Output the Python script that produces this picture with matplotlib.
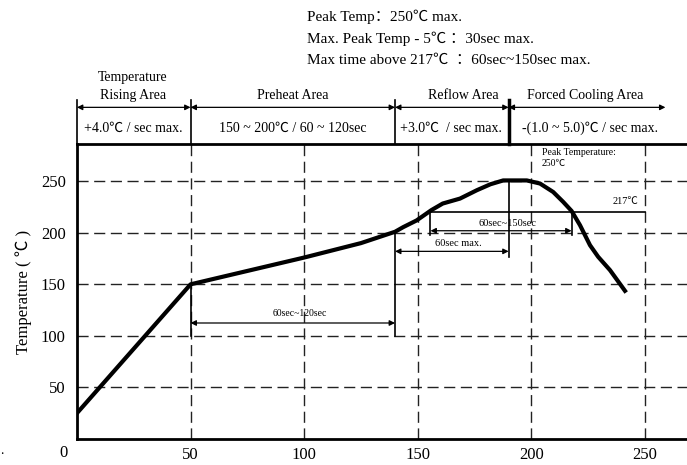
import matplotlib.pyplot as plt

# reflow profile
time_s = [0, 50, 75, 100, 125, 140, 143.6, 149.5, 156, 161, 168.6, 176, 182,
          187.6, 198, 203.8, 209.6, 214, 217.7, 221.4, 225.8, 229.4, 234.6, 241.2]
temp_c = [25, 150, 163, 176, 190, 201, 205.5, 212, 222, 228.4, 233.2, 241.3, 247.1,
          250.8, 250.8, 247.8, 239.6, 230, 221.2, 207.4, 188, 176.7, 163.8, 143.7]

x_ticks = [50, 100, 150, 200, 250]
y_ticks = [50, 100, 150, 200, 250]
zone_edges = [0, 50, 140, 190, 259]
zone_names = ["Temperature\nRising Area", "Preheat Area", "Reflow Area", "Forced Cooling Area"]
zone_rates = ["+4.0℃ / sec max.", "150 ~ 200℃ / 60 ~ 120sec",
              "+3.0℃  / sec max.", "-(1.0 ~ 5.0)℃ / sec max."]
spec_lines = ["Peak Temp：250℃ max.",
              "Max. Peak Temp - 5℃ ：30sec max.",
              "Max time above 217℃  ：60sec~150sec max."]

plt.rcParams['font.family'] = ['Liberation Serif', 'Noto Sans CJK SC', 'DejaVu Sans']

fig = plt.figure(figsize=(6.87, 4.65), dpi=100)
ax = fig.add_axes([0.112, 0.056, 0.888, 0.634])
ax.set_xlim(0, 268.5)
ax.set_ylim(0, 286)

# dashed grid
for v in x_ticks:
    ax.axvline(v, color="#222222", lw=1, dashes=(8, 4), zorder=1)
for v in y_ticks:
    ax.axhline(v, color="#222222", lw=1, dashes=(8, 4), zorder=1)

# profile curve
ax.plot(time_s, temp_c, color="black", lw=3, solid_joinstyle="round", zorder=5)

# ticks and spines
ax.set_xticks(x_ticks)
ax.set_yticks(y_ticks)
ax.tick_params(length=0, labelsize=12, pad=6)
ax.tick_params(axis="y", pad=8)
ax.text(-5.7, -6, "0", ha="center", va="top", fontsize=12)
ax.text(-33, -11, ".", ha="center", va="center", fontsize=10, clip_on=False)
ax.set_ylabel("Temperature ( ℃ )", fontsize=12, labelpad=6)
for side in ["left", "bottom", "top"]:
    ax.spines[side].set_linewidth(2)
ax.spines["right"].set_visible(False)

arrow = dict(arrowstyle="<|-|>", color="black", lw=0.9, mutation_scale=8, shrinkA=0, shrinkB=0)

# preheat interval
ax.plot([50, 50], [100, 150], color="black", lw=1.2)
ax.plot([140, 140], [100, 200], color="black", lw=1.2)
ax.annotate("", xy=(50, 112.5), xytext=(140, 112.5), arrowprops=arrow)
ax.text(98, 122, "60sec~120sec", ha="center", va="center", fontsize=7)

# reflow markers
ax.plot([190, 190], [177, 250], color="black", lw=1.2)
ax.annotate("", xy=(140, 182), xytext=(190, 182), arrowprops=arrow)
ax.text(168, 190, "60sec max.", ha="center", va="center", fontsize=7.5)
ax.plot([155.6, 250], [220, 220], color="black", lw=1.2)
ax.plot([155.6, 155.6], [198, 220], color="black", lw=1.2)
ax.plot([217.7, 217.7], [198, 220], color="black", lw=1.2)
ax.annotate("", xy=(155.6, 202), xytext=(217.7, 202), arrowprops=arrow)
ax.text(189.7, 209, "60sec~150sec", ha="center", va="center", fontsize=7.5)
ax.text(247, 230, "217℃", ha="right", va="center", fontsize=7.5)
ax.text(204.7, 282, "Peak Temperature:\n250℃", ha="left", va="top", fontsize=7, linespacing=1.2)

# zone header above the axes
for i, x in enumerate(zone_edges[:-1]):
    lw = 2.5 if i == 3 else 1.2
    ax.plot([x, x], [286, 328.5], color="black", lw=lw, clip_on=False)
for i in range(len(zone_names)):
    x0, x1 = zone_edges[i], zone_edges[i + 1]
    ax.annotate("", xy=(x0, 321.7), xytext=(x1, 321.7), arrowprops=arrow,
                annotation_clip=False)
ax.text(24.6, 342, zone_names[0], ha="center", va="center", fontsize=10,
        linespacing=1.45, clip_on=False)
for name, x in zip(zone_names[1:], [95.1, 169.9, 223.6]):
    ax.text(x, 333.3, name, ha="center", va="center", fontsize=10, clip_on=False)
for rate, x in zip(zone_rates, [24.6, 95.1, 164.6, 226]):
    ax.text(x, 301.4, rate, ha="center", va="center", fontsize=10, clip_on=False)
for line, y in zip(spec_lines, [409.9, 388.6, 367.2]):
    ax.text(101.2, y, line, ha="left", va="center", fontsize=11, clip_on=False)

fig.savefig("out.png", dpi=100)
